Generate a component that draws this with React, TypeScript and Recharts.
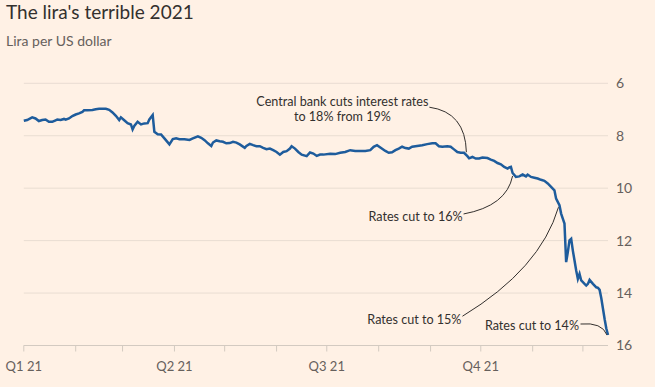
import { LineChart, Line, XAxis, YAxis, CartesianGrid, ReferenceDot } from 'recharts';

// day of year (0 = 1 Jan 2021) and lira per US dollar
const days = [
  0, 2, 5, 7, 9, 11, 13, 15, 17, 19, 20, 22, 24, 25, 27, 29, 31, 33, 35, 36, 38, 41, 43, 45, 47, 49, 51, 53, 55, 57, 58,
  60, 62, 64, 65, 66, 68, 70, 72, 74, 75, 77, 78, 80, 82, 84, 87, 89, 91, 93, 96, 99, 101, 104, 106, 108, 110, 112,
  113, 115, 117, 119, 121, 123, 125, 127, 129, 132, 133, 135, 137, 139, 141, 143, 145, 147, 149, 151, 153, 155, 157,
  159, 160, 162, 164, 166, 169, 171, 173, 175, 177, 179, 183, 186, 189, 192, 195, 198, 201, 204, 207, 209, 211, 213,
  216, 218, 220, 222, 224, 226, 228, 230, 232, 235, 238, 241, 244, 246, 248, 250, 253, 255, 257, 259, 261, 263, 265,
  266, 268, 270, 272, 274, 277, 279, 281, 283, 285, 287, 289, 290, 291, 292, 294, 296, 298, 300, 301, 303, 305, 307,
  309, 311, 313, 315, 317, 318, 320, 321, 322, 323, 324, 325, 326, 327, 328, 329, 330, 331, 332, 333, 335, 336, 337,
  338, 340, 342, 343, 344, 345, 346, 347, 348, 349,
];
const rates = [
  7.43, 7.4, 7.3, 7.34, 7.44, 7.4, 7.38, 7.47, 7.47, 7.41, 7.38, 7.4, 7.36, 7.39, 7.34, 7.25, 7.19, 7.15, 7.09, 7.03,
  7.03, 7.02, 6.99, 6.97, 6.97, 6.97, 7.01, 7.11, 7.24, 7.4, 7.3, 7.41, 7.52, 7.57, 7.76, 7.63, 7.47, 7.57, 7.53, 7.52,
  7.38, 7.21, 7.85, 7.94, 7.95, 8.1, 8.33, 8.13, 8.1, 8.13, 8.13, 8.16, 8.1, 8.02, 8.08, 8.17, 8.29, 8.39, 8.26, 8.18,
  8.21, 8.23, 8.29, 8.28, 8.23, 8.26, 8.33, 8.46, 8.39, 8.31, 8.36, 8.4, 8.4, 8.46, 8.51, 8.49, 8.55, 8.62, 8.72, 8.62,
  8.59, 8.49, 8.4, 8.49, 8.62, 8.72, 8.78, 8.64, 8.68, 8.77, 8.72, 8.72, 8.69, 8.7, 8.65, 8.62, 8.55, 8.58, 8.58, 8.58,
  8.55, 8.42, 8.36, 8.45, 8.58, 8.65, 8.63, 8.55, 8.49, 8.42, 8.47, 8.49, 8.42, 8.39, 8.36, 8.32, 8.29, 8.29, 8.4, 8.42,
  8.4, 8.42, 8.52, 8.62, 8.65, 8.65, 8.78, 8.86, 8.81, 8.87, 8.87, 8.83, 8.85, 8.91, 8.96, 9.04, 9.09, 9.19, 9.25, 9.21,
  9.19, 9.42, 9.57, 9.55, 9.48, 9.55, 9.48, 9.57, 9.6, 9.63, 9.68, 9.72, 9.82, 9.95, 10.08, 10.4, 10.65, 10.97, 11.16,
  11.35, 12.82, 12.44, 11.99, 11.93, 12.38, 12.76, 13.14, 13.46, 13.27, 13.52, 13.65, 13.71, 13.65, 13.5, 13.65, 13.78,
  13.8, 13.88, 14.2, 14.6, 15.0, 15.35, 15.6,
];

const monthTicks = [0, 31, 59, 90, 120, 151, 181, 212, 243, 273, 304, 334];
const quarterLabels: Record<number, string> = { 0: 'Q1 21', 90: 'Q2 21', 181: 'Q3 21', 273: 'Q4 21' };
const yTicks = [6, 8, 10, 12, 14, 16];

const notes = [
  { day: 265, rate: 8.78, text: ['Central bank cuts interest rates', 'to 18% from 19%'] },
  { day: 292, rate: 9.42, text: ['Rates cut to 16%'] },
  { day: 320, rate: 10.65, text: ['Rates cut to 15%'] },
  { day: 349, rate: 15.6, text: ['Rates cut to 14%'] },
];

const data = days.map((d, i) => ({ day: d, rate: rates[i] }));

const FONT = 'Lato, "Noto Sans", sans-serif';
const INK = '#33302E';
const MUTED = '#66605C';

// leader line and text placement, relative to the annotated point
const leaders = [
  { path: 'M -38 -49 Q -2 -44 -1 -4', tx: -125, ty: -50, anchor: 'middle' },
  { path: 'M -49 41 Q -6 33 0 3', tx: -50, ty: 48, anchor: 'end' },
  { path: 'M -97 111 Q -19 63.5 -1 2', tx: -98, ty: 119, anchor: 'end' },
  { path: 'M -27.5 -11 Q -6 -13 -1 0', tx: -29, ty: -5, anchor: 'end' },
];

function noteShape(i: number) {
  return (props: any) => {
    const { cx, cy } = props;
    const l = leaders[i];
    return (
      <g transform={`translate(${cx},${cy})`}>
        <path d={l.path} fill="none" stroke={INK} strokeWidth={1} />
        {notes[i].text.map((t, j) => (
          <text key={j} x={l.tx} y={l.ty + j * 14.5} textAnchor={l.anchor} fontSize={12.6} fill={INK} fontFamily={FONT}>
            {t}
          </text>
        ))}
      </g>
    );
  };
}

export default function App() {
  return (
    <div style={{ position: 'absolute', left: 0, top: 0, width: 655, height: 387, background: '#FFF1E5' }}>
      <svg width={655} height={60} style={{ position: 'absolute', left: 0, top: 0 }}>
        <text x={6} y={18.5} fontSize={19} fill={INK} fontFamily={FONT}>
          The lira's terrible 2021
        </text>
        <text x={6} y={46} fontSize={14} fill={MUTED} fontFamily={FONT}>
          Lira per US dollar
        </text>
      </svg>
      <div style={{ position: 'absolute', left: 0, top: 0 }}>
        <LineChart width={655} height={387} data={data} margin={{ top: 83.3, right: 7, bottom: 11.5, left: 23.8 }}>
          <CartesianGrid vertical={false} stroke="#E9DDD2" />
          <XAxis
            dataKey="day"
            type="number"
            domain={[0, 349]}
            ticks={monthTicks}
            interval={0}
            height={30}
            tickSize={6}
            tickMargin={10}
            tickFormatter={(v: number) => quarterLabels[v] ?? ''}
            axisLine={{ stroke: '#D3CAC1' }}
            tickLine={{ stroke: '#D3CAC1' }}
            tick={{ fill: MUTED, fontSize: 13, fontFamily: FONT }}
          />
          <YAxis
            orientation="right"
            reversed
            domain={[6, 16]}
            ticks={yTicks}
            width={40}
            axisLine={false}
            tickLine={false}
            tick={{ fill: MUTED, fontSize: 14, fontFamily: FONT, textAnchor: 'start' }}
          />
          <Line
            type="linear"
            dataKey="rate"
            stroke="#1E5C9C"
            strokeWidth={2.5}
            dot={false}
            isAnimationActive={false}
          />
          {notes.map((n, i) => (
            <ReferenceDot key={i} x={n.day} y={n.rate} r={0} ifOverflow="visible" shape={noteShape(i)} />
          ))}
        </LineChart>
      </div>
    </div>
  );
}
